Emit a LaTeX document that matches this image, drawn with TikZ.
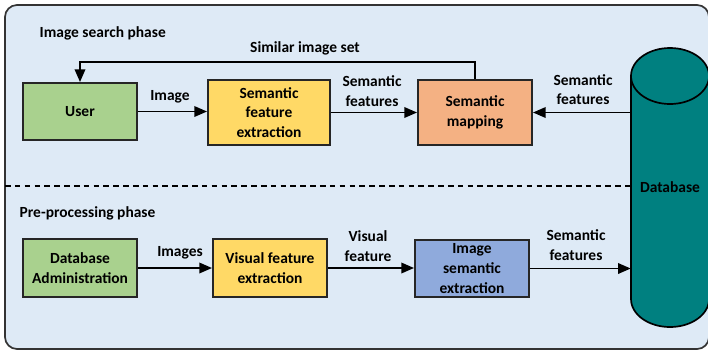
\documentclass[tikz,border=0pt]{standalone}
\usepackage{fontspec}
\setmainfont{Carlito}
\usetikzlibrary{arrows.meta}

\definecolor{panelblue}{RGB}{222,234,246}
\definecolor{usergreen}{RGB}{169,209,142}
\definecolor{featyellow}{RGB}{255,217,102}
\definecolor{maporange}{RGB}{244,177,131}
\definecolor{semblue}{RGB}{143,170,220}
\definecolor{dbteal}{RGB}{0,128,128}

\begin{document}
\begin{tikzpicture}[
  x=0.025cm, y=-0.025cm,
  font=\bfseries\fontsize{11}{14}\selectfont,
  box/.style={draw=black!85, line width=1.4pt, align=center, inner sep=2pt},
  lbl/.style={align=center, inner sep=1pt},
  arr/.style={line width=1.2pt, -{Triangle[length=9pt, width=7.5pt]}}
]
\useasboundingbox (0,0) rectangle (708,351);

% --- frame ---
\draw[fill=panelblue, draw=black!80, line width=1.2pt, rounded corners=0.3cm]
  (5,5) rectangle (709,349);

% --- database cylinder ---
\draw[fill=dbteal, line width=1.2pt]
  (631,76) -- (631,299) arc[start angle=180, end angle=360, x radius=0.975cm, y radius=0.7cm]
  -- (709,76) -- cycle;
\draw[fill=dbteal, line width=1.2pt] (670,76) ellipse [x radius=0.975cm, y radius=0.7cm];
\node[lbl, minimum width=1.95cm, minimum height=6.975cm, inner sep=0pt] (db) at (670,187.5) {Database};

% --- image search phase ---
\node[lbl, anchor=west] (ttl1) at (38,33) {Image search phase};
\node[box, fill=usergreen, minimum width=2.85cm, minimum height=1.425cm] (user) at (80,111.5) {User};
\node[box, fill=featyellow, minimum width=3.05cm, minimum height=1.625cm] (sfe) at (269,112.5) {Semantic\\feature\\extraction};
\node[box, fill=maporange, minimum width=2.85cm, minimum height=1.625cm] (sm) at (475,112.5) {Semantic\\mapping};

\node[lbl] (l1) at (170,97) {Image};
\node[lbl] (l2) at (372,91) {Semantic\\features};
\node[lbl] (l3) at (583,89.5) {Semantic\\features};
\node[lbl] (l4) at (305,48) {Similar image set};

% --- separator ---
\coordinate (sep) at (5,186);
\draw[dashed, line width=0.8pt, dash pattern=on 4pt off 3pt] (sep) -- (sep -| db.west);

% --- pre-processing phase ---
\node[lbl, anchor=west] (ttl2) at (18,213) {Pre-processing phase};
\node[box, fill=usergreen, minimum width=2.85cm, minimum height=1.45cm] (da) at (80,268) {Database\\Administration};
\node[box, fill=featyellow, minimum width=2.85cm, minimum height=1.45cm] (vfe) at (270,268) {Visual feature\\extraction};
\node[box, fill=semblue, minimum width=2.85cm, minimum height=1.425cm] (ise) at (472,268.5) {Image\\semantic\\extraction};

\node[lbl] (l5) at (180,253) {Images};
\node[lbl] (l6) at (368,246) {Visual\\feature};
\node[lbl] (l7) at (576,245) {Semantic\\features};

% --- edges: search phase ---
\draw[arr] (user.east) -- (sfe.west |- user.east);
\draw[arr] (sfe.east) -- (sm.west);
\draw[arr] (sm.east -| db.west) -- (sm.east);
\draw[arr] (sm.north) -- ++(0,-17) -| (user.north);

% --- edges: pre-processing phase ---
\draw[arr] (da.east) -- (vfe.west);
\draw[arr] (vfe.east) -- (ise.west |- vfe.east);
\draw[arr] (ise.east) -- (ise.east -| db.west);

\end{tikzpicture}
\end{document}
